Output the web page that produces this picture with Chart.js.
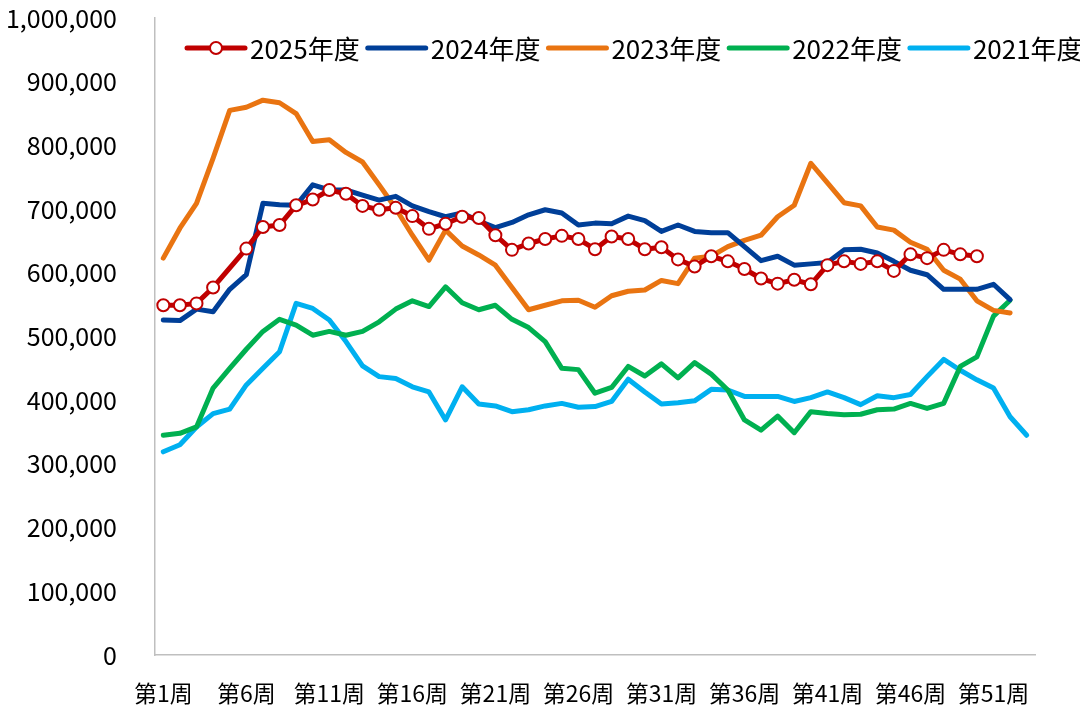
<!DOCTYPE html>
<html>
<head>
<meta charset="utf-8">
<script src="https://cdn.jsdelivr.net/npm/chart.js@4.4.1/dist/chart.umd.min.js"></script>
<style>
  html, body { margin: 0; padding: 0; background: #fff; }
  #wrap { width: 1080px; height: 720px; }
</style>
</head>
<body>
<div id="wrap"><canvas id="weekChart"></canvas></div>
<script>
// 周次标签
const weeks = Array.from({ length: 53 }, (_, i) => '第' + (i + 1) + '周');
const seriesNames = ['2025年度', '2024年度', '2023年度', '2022年度', '2021年度'];

// 各年度周数据（第5周2025年缺值）
const y2025 = [549000, 549000, 552000, 577000, null, 638000, 672000, 675000, 706000, 715000,
  730000, 724000, 705000, 699000, 702000, 689000, 669000, 677000, 688000, 686000,
  659000, 636000, 646000, 653000, 658000, 653000, 637000, 657000, 653000, 637000,
  640000, 621000, 610000, 626000, 618000, 606000, 591000, 583000, 589000, 582000,
  612000, 618000, 614000, 618000, 603000, 629000, 623000, 636000, 629000, 626000];
const y2024 = [526000, 525000, 543000, 539000, 574000, 597000, 709000, 707000, 706000, 738000,
  730000, 730000, 722000, 714000, 720000, 705000, 696000, 688000, 694000, 681000,
  671000, 679000, 691000, 699000, 694000, 675000, 678000, 677000, 689000, 682000,
  665000, 675000, 665000, 663000, 663000, 641000, 619000, 626000, 612000, 614000,
  616000, 636000, 637000, 631000, 618000, 604000, 597000, 574000, 574000, 574000,
  582000, 558000];
const y2023 = [623000, 670000, 709000, 780000, 855000, 860000, 871000, 867000, 850000, 806000,
  809000, 789000, 774000, 738000, 701000, 659000, 620000, 667000, 642000, 628000,
  612000, 577000, 542000, 549000, 556000, 557000, 546000, 564000, 571000, 573000,
  588000, 583000, 623000, 626000, 641000, 651000, 659000, 688000, 706000, 772000,
  741000, 710000, 705000, 672000, 667000, 648000, 637000, 604000, 590000, 556000,
  541000, 537000];
const y2022 = [345000, 348000, 358000, 419000, 450000, 480000, 508000, 527000, 518000, 502000,
  508000, 502000, 508000, 523000, 543000, 556000, 547000, 578000, 553000, 542000,
  549000, 527000, 514000, 492000, 450000, 448000, 411000, 420000, 453000, 438000,
  457000, 435000, 459000, 441000, 416000, 369000, 353000, 375000, 349000, 382000,
  379000, 377000, 378000, 385000, 386000, 395000, 387000, 395000, 453000, 468000,
  532000, 557000];
const y2021 = [319000, 330000, 358000, 379000, 386000, 424000, 450000, 476000, 552000, 544000,
  526000, 492000, 454000, 437000, 434000, 421000, 413000, 369000, 421000, 394000,
  391000, 382000, 385000, 391000, 395000, 389000, 390000, 398000, 433000, 413000,
  394000, 396000, 399000, 417000, 416000, 406000, 406000, 406000, 398000, 404000,
  413000, 404000, 393000, 407000, 404000, 409000, 437000, 464000, 447000, 432000,
  419000, 374000, 345000];

const seriesValues = [y2025, y2024, y2023, y2022, y2021];
const seriesColors = ['#C00000', '#003F98', '#E97411', '#00B050', '#00B0F0'];

const FONT = "'Noto Sans CJK SC', 'Noto Sans', sans-serif";

// 图例画在绘图区内部（顶部）
const topLegend = {
    id: 'topLegend',
    afterDraw(chart) {
        const { ctx } = chart;
        ctx.save();
        ctx.font = '26px ' + FONT;
        ctx.textBaseline = 'middle';
        ctx.textAlign = 'left';
        let x = 187;
        const y = 48;
        chart.data.datasets.forEach(ds => {
            ctx.strokeStyle = ds.borderColor;
            ctx.lineWidth = 5;
            ctx.lineCap = 'round';
            ctx.beginPath();
            ctx.moveTo(x, y);
            ctx.lineTo(x + 58, y);
            ctx.stroke();
            if (ds.pointRadius > 0) {
                ctx.beginPath();
                ctx.arc(x + 29, y, 6, 0, Math.PI * 2);
                ctx.fillStyle = '#fff';
                ctx.fill();
                ctx.lineWidth = 2;
                ctx.stroke();
            }
            ctx.fillStyle = '#000';
            ctx.fillText(ds.label, x + 63, y + 1);
            x += 63 + ctx.measureText(ds.label).width + 8;
        });
        ctx.restore();
    }
};

const datasets = seriesNames.map((name, i) => ({
    label: name,
    data: seriesValues[i],
    borderColor: seriesColors[i],
    backgroundColor: seriesColors[i],
    borderWidth: 5,
    tension: 0,
    spanGaps: true,
    borderJoinStyle: 'round',
    borderCapStyle: 'round',
    pointRadius: i === 0 ? 6 : 0,
    pointBorderWidth: 2,
    pointBackgroundColor: '#fff',
    pointBorderColor: seriesColors[i]
}));

new Chart(document.getElementById('weekChart').getContext('2d'), {
    type: 'line',
    data: { labels: weeks, datasets: datasets },
    plugins: [topLegend],
    options: {
        responsive: true,
        maintainAspectRatio: false,
        animation: false,
        layout: { padding: { top: 18, right: 45, bottom: 0, left: 0 } },
        plugins: {
            legend: { display: false },
            tooltip: { enabled: false }
        },
        scales: {
            x: {
                offset: true,
                grid: { display: false },
                border: { display: true, color: '#BFBFBF', width: 1.5 },
                ticks: {
                    autoSkip: false,
                    maxRotation: 0,
                    padding: 16,
                    color: '#000',
                    font: { size: 23, family: FONT },
                    callback: function (v, i) { return i % 5 === 0 ? this.getLabelForValue(v) : ''; }
                },
                afterFit: s => { s.height = 65; }
            },
            y: {
                min: 0,
                max: 1000000,
                grid: { display: false },
                border: { display: true, color: '#BFBFBF', width: 1.5 },
                ticks: {
                    stepSize: 100000,
                    padding: 30,
                    color: '#000',
                    font: { size: 25, family: FONT },
                    callback: v => v.toLocaleString('en-US')
                },
                afterFit: s => { s.width = 155; s.paddingTop = 0; s.paddingBottom = 0; }
            }
        }
    }
});
</script>
</body>
</html>
